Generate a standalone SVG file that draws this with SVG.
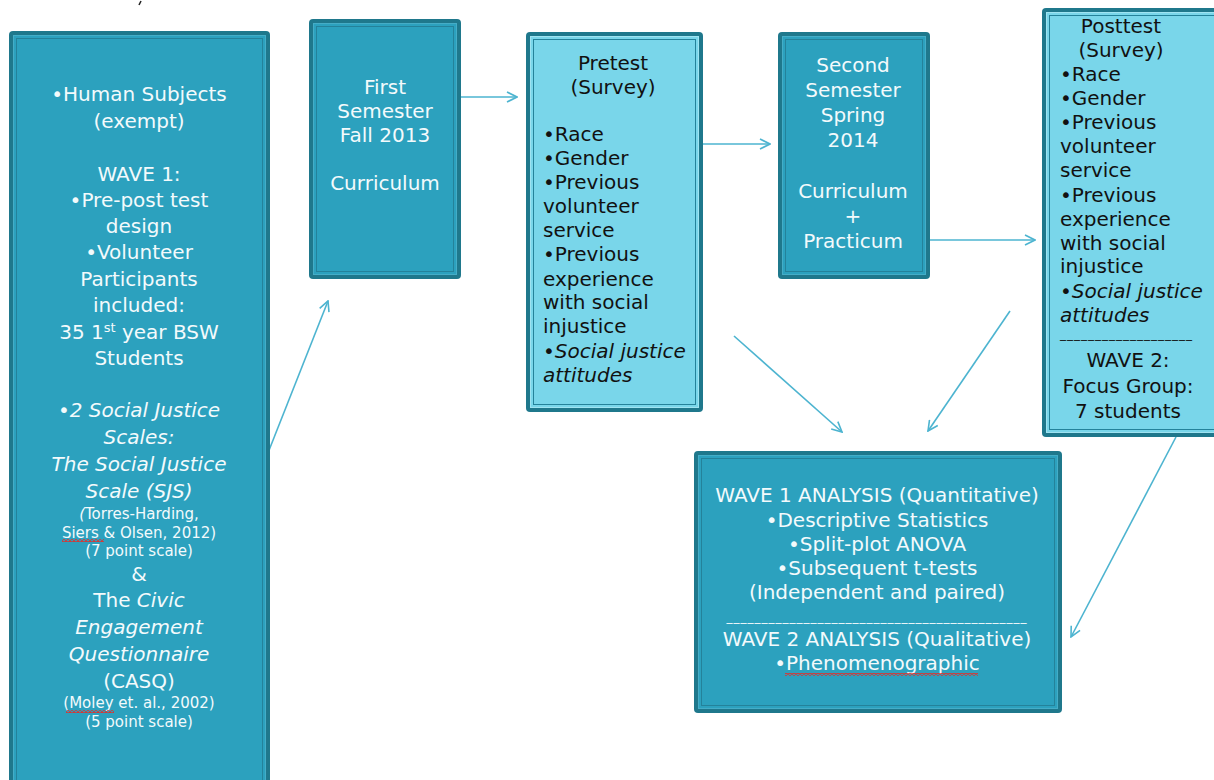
<svg xmlns="http://www.w3.org/2000/svg" width="1214" height="780" viewBox="0 0 1214 780">
  <defs>
    <style>
      .frame { fill: #1f788c; }
      .dark .fill { fill: #2ca1be; stroke: #45adc7; stroke-width: 1; }
      .light .fill { fill: #79d6ea; stroke: #9fe3f1; stroke-width: 1; }
      .inner { fill: none; stroke: #24829a; stroke-width: 1; }
      text { font-family: "DejaVu Sans", "Liberation Sans", sans-serif; font-size: 20px; }
      .dark text { fill: #f3fafc; text-anchor: middle; }
      .light text { fill: #111; }
      .mid { text-anchor: middle; }
      .it { font-style: italic; }
      .sm { font-size: 15px; }
      .rule { font-size: 12px; letter-spacing: 1px; }
      .conn line { stroke: #4db4d0; stroke-width: 1.6; fill: none; marker-end: url(#open); }
      .squiggle { fill: url(#wave); }
    </style>
    <marker id="open" viewBox="0 0 12 12" refX="11" refY="6" markerWidth="12" markerHeight="12" markerUnits="userSpaceOnUse" orient="auto">
      <path d="M1,1 L11,6 L1,11" fill="none" stroke="#4db4d0" stroke-width="1.6"/>
    </marker>
    <pattern id="wave" width="4" height="3" patternUnits="userSpaceOnUse">
      <path d="M0,2.5 L2,0.5 L4,2.5" fill="none" stroke="#e0302c" stroke-width="1.1"/>
    </pattern>
  </defs>

  <rect width="1214" height="780" fill="#ffffff"/>
  <path d="M141,1 L139,5" stroke="#222" stroke-width="1.6"/>

  <!-- connectors -->
  <g id="connectors" class="conn">
    <line x1="262" y1="468" x2="328" y2="301"/>
    <line x1="461" y1="97" x2="517" y2="97"/>
    <line x1="703" y1="144" x2="770" y2="144"/>
    <line x1="930" y1="240" x2="1035" y2="240"/>
    <line x1="734" y1="336" x2="842" y2="432"/>
    <line x1="1010" y1="311" x2="928" y2="431"/>
    <line x1="1176" y1="437" x2="1071" y2="637"/>
  </g>

  <!-- design and sample -->
  <g id="design" class="dark">
    <rect class="frame" x="9" y="31" width="261" height="760" rx="4"/>
    <rect class="fill" x="13.5" y="35.5" width="252" height="751"/>
    <rect class="inner" x="16.5" y="38.5" width="246" height="745"/>
    <text x="139" y="101">•Human Subjects</text>
    <text x="139" y="128">(exempt)</text>
    <text x="139" y="181">WAVE 1:</text>
    <text x="139" y="207">•Pre-post test</text>
    <text x="139" y="233">design</text>
    <text x="139" y="259">•Volunteer</text>
    <text x="139" y="286">Participants</text>
    <text x="139" y="312">included:</text>
    <text x="139" y="339">35 1<tspan font-size="13" dy="-7">st</tspan><tspan dy="7"> year BSW</tspan></text>
    <text x="139" y="365">Students</text>
    <text x="139" y="417">•<tspan class="it">2 Social Justice</tspan></text>
    <text x="139" y="444" class="it">Scales:</text>
    <text x="139" y="471" class="it">The Social Justice</text>
    <text x="139" y="498" class="it">Scale (SJS)</text>
    <text x="139" y="519" class="sm"><tspan class="it">(</tspan>Torres-Harding,</text>
    <text x="139" y="538" class="sm">Siers &amp; Olsen, 2012)</text>
    <text x="139" y="556" class="sm">(7 point scale)</text>
    <text x="139" y="581">&amp;</text>
    <text x="139" y="607">The <tspan class="it">Civic</tspan></text>
    <text x="139" y="634" class="it">Engagement</text>
    <text x="139" y="661" class="it">Questionnaire</text>
    <text x="139" y="688">(CASQ)</text>
    <text x="139" y="708" class="sm">(Moley et. al., 2002)</text>
    <text x="139" y="727" class="sm">(5 point scale)</text>
    <rect class="squiggle" x="62" y="539" width="42" height="3"/>
    <rect class="squiggle" x="66" y="710" width="48" height="3"/>
  </g>

  <!-- first semester -->
  <g id="first-semester" class="dark">
    <rect class="frame" x="309" y="19" width="152" height="260" rx="4"/>
    <rect class="fill" x="313.5" y="23.5" width="143" height="251"/>
    <rect class="inner" x="316.5" y="26.5" width="137" height="245"/>
    <text x="385" y="94">First</text>
    <text x="385" y="118">Semester</text>
    <text x="385" y="142">Fall 2013</text>
    <text x="385" y="190">Curriculum</text>
  </g>

  <!-- pretest -->
  <g id="pretest" class="light">
    <rect class="frame" x="526" y="32" width="177" height="380" rx="4"/>
    <rect class="fill" x="530.5" y="36.5" width="168" height="371"/>
    <rect class="inner" x="533.5" y="39.5" width="162" height="365"/>
    <text x="613" y="70" class="mid">Pretest</text>
    <text x="613" y="94" class="mid">(Survey)</text>
    <text x="543" y="141">•Race</text>
    <text x="543" y="165">•Gender</text>
    <text x="543" y="189">•Previous</text>
    <text x="543" y="213">volunteer</text>
    <text x="543" y="237">service</text>
    <text x="543" y="261">•Previous</text>
    <text x="543" y="286">experience</text>
    <text x="543" y="309">with social</text>
    <text x="543" y="333">injustice</text>
    <text x="543" y="358">•<tspan class="it">Social justice</tspan></text>
    <text x="543" y="382" class="it">attitudes</text>
  </g>

  <!-- second semester -->
  <g id="second-semester" class="dark">
    <rect class="frame" x="778" y="32" width="152" height="247" rx="4"/>
    <rect class="fill" x="782.5" y="36.5" width="143" height="238"/>
    <rect class="inner" x="785.5" y="39.5" width="137" height="232"/>
    <text x="853" y="72">Second</text>
    <text x="853" y="97">Semester</text>
    <text x="853" y="122">Spring</text>
    <text x="853" y="147">2014</text>
    <text x="853" y="198">Curriculum</text>
    <text x="853" y="223">+</text>
    <text x="853" y="248">Practicum</text>
  </g>

  <!-- posttest -->
  <g id="posttest" class="light">
    <rect class="frame" x="1042" y="8" width="180" height="429" rx="4"/>
    <rect class="fill" x="1046.5" y="12.5" width="180" height="420"/>
    <rect class="inner" x="1049.5" y="15.5" width="180" height="414"/>
    <text x="1121" y="33" class="mid">Posttest</text>
    <text x="1121" y="57" class="mid">(Survey)</text>
    <text x="1060" y="81">•Race</text>
    <text x="1060" y="105">•Gender</text>
    <text x="1060" y="129">•Previous</text>
    <text x="1060" y="153">volunteer</text>
    <text x="1060" y="177">service</text>
    <text x="1060" y="202">•Previous</text>
    <text x="1060" y="226">experience</text>
    <text x="1060" y="250">with social</text>
    <text x="1060" y="273">injustice</text>
    <text x="1060" y="298">•<tspan class="it">Social justice</tspan></text>
    <text x="1060" y="322" class="it">attitudes</text>
    <text x="1060" y="338" class="rule">___________________</text>
    <text x="1128" y="367" class="mid">WAVE 2:</text>
    <text x="1128" y="393" class="mid">Focus Group:</text>
    <text x="1128" y="418" class="mid">7 students</text>
  </g>

  <!-- analysis -->
  <g id="analysis" class="dark">
    <rect class="frame" x="694" y="451" width="368" height="262" rx="4"/>
    <rect class="fill" x="698.5" y="455.5" width="359" height="253"/>
    <rect class="inner" x="701.5" y="458.5" width="353" height="247"/>
    <text x="877" y="502">WAVE 1 ANALYSIS (Quantitative)</text>
    <text x="877" y="527">•Descriptive Statistics</text>
    <text x="877" y="551">•Split-plot ANOVA</text>
    <text x="877" y="575">•Subsequent t-tests</text>
    <text x="877" y="599">(Independent and paired)</text>
    <text x="877" y="621" class="rule">___________________________________________</text>
    <text x="877" y="646">WAVE 2 ANALYSIS (Qualitative)</text>
    <text x="877" y="670">•Phenomenographic</text>
    <rect class="squiggle" x="785" y="673" width="193" height="3"/>
  </g>
</svg>
